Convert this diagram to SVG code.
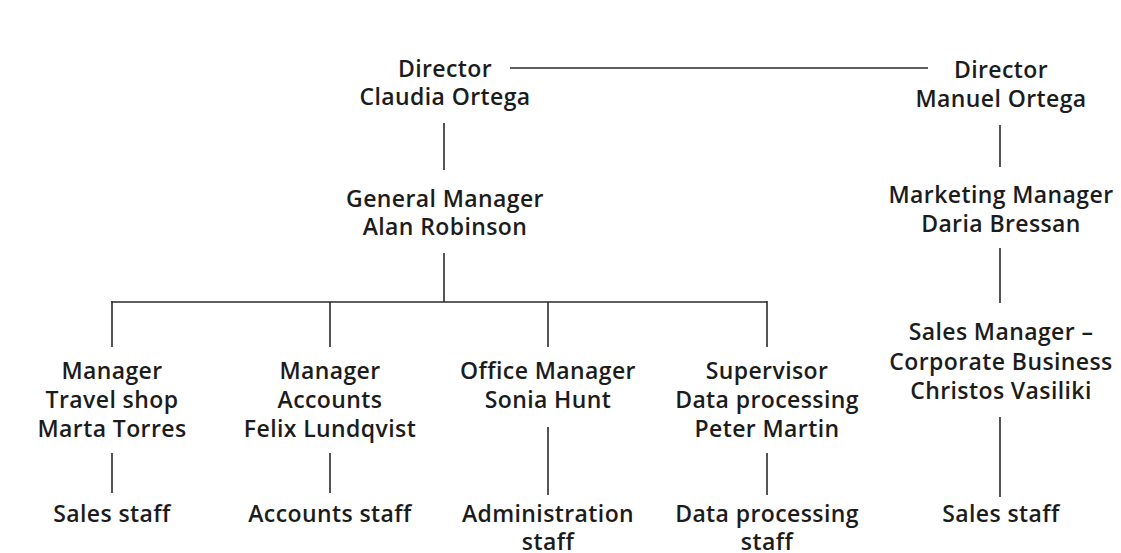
<svg xmlns="http://www.w3.org/2000/svg" width="1121" height="553" viewBox="0 0 1121 553">
<style>
text{font-family:"Open Sans","Noto Sans",sans-serif;font-size:23px;font-weight:600;letter-spacing:0.4px;fill:#1c1c1c;text-anchor:middle}
.c line{stroke:#2a2a2a;stroke-width:1.6}
</style>
<rect width="1121" height="553" fill="#ffffff"/>
<g class="c" id="connectors">
<line x1="510" y1="68" x2="928" y2="68"/>
<line x1="444" y1="123" x2="444" y2="170"/>
<line x1="444" y1="253" x2="444" y2="302"/>
<line x1="111.5" y1="302" x2="767" y2="302"/>
<line x1="112" y1="301" x2="112" y2="347"/>
<line x1="330" y1="302" x2="330" y2="347"/>
<line x1="548" y1="302" x2="548" y2="347"/>
<line x1="767" y1="301" x2="767" y2="347"/>
<line x1="112" y1="453" x2="112" y2="493"/>
<line x1="330" y1="453" x2="330" y2="493"/>
<line x1="548" y1="427" x2="548" y2="495"/>
<line x1="767" y1="453" x2="767" y2="495"/>
<line x1="1000" y1="125" x2="1000" y2="167"/>
<line x1="1000" y1="248" x2="1000" y2="303"/>
<line x1="1000" y1="417" x2="1000" y2="497"/>
</g>
<g id="director-claudia"><text x="445" y="77">Director</text><text x="445" y="105">Claudia Ortega</text></g>
<g id="director-manuel"><text x="1001" y="78">Director</text><text x="1001" y="107">Manuel Ortega</text></g>
<g id="general-manager"><text x="445" y="207">General Manager</text><text x="445" y="235">Alan Robinson</text></g>
<g id="marketing-manager"><text x="1001" y="203">Marketing Manager</text><text x="1001" y="232">Daria Bressan</text></g>
<g id="travel-shop"><text x="112" y="379">Manager</text><text x="112" y="408">Travel shop</text><text x="112" y="437">Marta Torres</text></g>
<g id="accounts"><text x="330" y="379">Manager</text><text x="330" y="408">Accounts</text><text x="330" y="437">Felix Lundqvist</text></g>
<g id="office-manager"><text x="548" y="379">Office Manager</text><text x="548" y="408">Sonia Hunt</text></g>
<g id="supervisor"><text x="767" y="379">Supervisor</text><text x="767" y="408">Data processing</text><text x="767" y="437">Peter Martin</text></g>
<g id="sales-manager"><text x="1001" y="340">Sales Manager –</text><text x="1001" y="370">Corporate Business</text><text x="1001" y="399">Christos Vasiliki</text></g>
<g id="sales-staff-1"><text x="112" y="522">Sales staff</text></g>
<g id="accounts-staff"><text x="330" y="522">Accounts staff</text></g>
<g id="admin-staff"><text x="548" y="522">Administration</text><text x="548" y="550">staff</text></g>
<g id="dp-staff"><text x="767" y="522">Data processing</text><text x="767" y="550">staff</text></g>
<g id="sales-staff-2"><text x="1001" y="522">Sales staff</text></g>
</svg>
